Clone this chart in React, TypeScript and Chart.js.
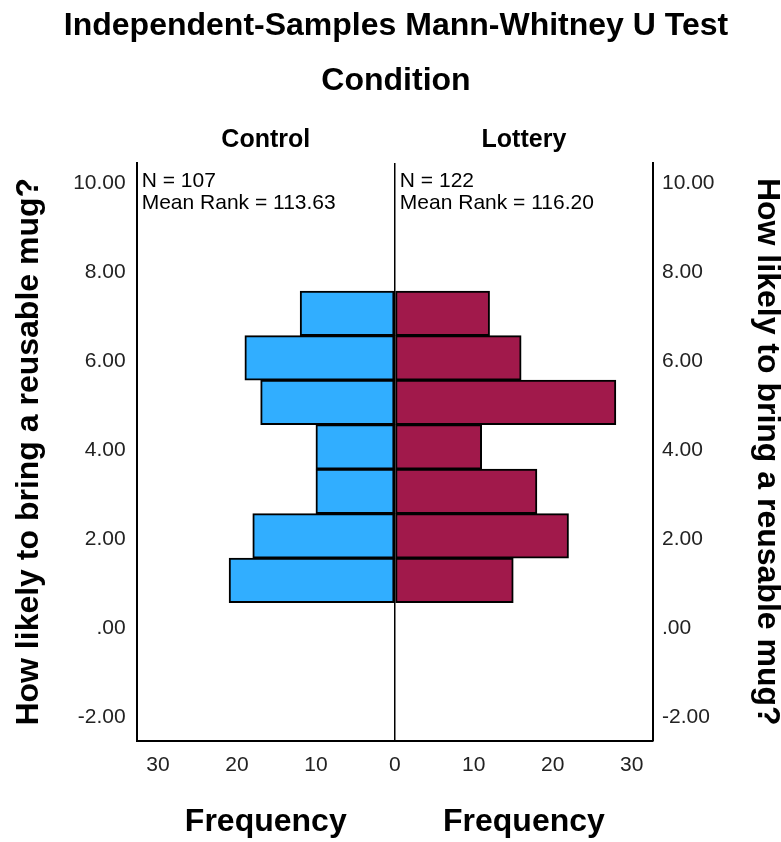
import React, { useEffect, useRef } from 'react';
import { Chart, registerables } from 'chart.js';

Chart.register(...registerables);

// ---- data ----
const ratingBins = [1, 2, 3, 4, 5, 6, 7];
const controlFreq = [21, 18, 10, 10, 17, 19, 12];
const lotteryFreq = [15, 22, 18, 11, 28, 16, 12];
const yTickValues = [-2, 0, 2, 4, 6, 8, 10];
const xTickValues = [-30, -20, -10, 0, 10, 20, 30];
const groupNames = ['Control', 'Lottery'];
const controlStats = ['N = 107', 'Mean Rank = 113.63'];
const lotteryStats = ['N = 122', 'Mean Rank = 116.20'];
const chartTitle = 'Independent-Samples Mann-Whitney U Test';
const factorTitle = 'Condition';
const yTitle = 'How likely to bring a reusable mug?';
const xTitle = 'Frequency';

const W = 781;
const H = 842;
const FONT = '"Liberation Sans", Arial, sans-serif';
const AREA = { left: 136.7, right: 653, top: 163, bottom: 740.5 };

const fmtY = (v: number) => (v === 0 ? '.00' : v.toFixed(2));

const annotPlugin = {
  id: 'annot',
  afterDraw(chart: any) {
    const { ctx, chartArea: a, scales } = chart;
    const mid = scales.x.getPixelForValue(0);
    const leftC = (a.left + mid) / 2;
    const rightC = (mid + a.right) / 2;
    const midY = (a.top + a.bottom) / 2;
    ctx.save();
    ctx.fillStyle = '#000';
    ctx.textAlign = 'center';
    ctx.textBaseline = 'middle';
    ctx.font = `bold 32px ${FONT}`;
    ctx.fillText(chartTitle, 396, 26);
    ctx.fillText(factorTitle, 396, 81);
    ctx.font = `bold 25px ${FONT}`;
    ctx.fillText(groupNames[0], leftC, 140);
    ctx.fillText(groupNames[1], rightC, 140);
    ctx.font = `bold 32px ${FONT}`;
    ctx.fillText(xTitle, leftC, 822);
    ctx.fillText(xTitle, rightC, 822);

    ctx.save();
    ctx.translate(29, midY);
    ctx.rotate(-Math.PI / 2);
    ctx.fillText(yTitle, 0, 0);
    ctx.restore();
    ctx.save();
    ctx.translate(767, midY);
    ctx.rotate(Math.PI / 2);
    ctx.fillText(yTitle, 0, 0);
    ctx.restore();

    ctx.textAlign = 'left';
    ctx.font = `21px ${FONT}`;
    controlStats.forEach((t, i) => ctx.fillText(t, a.left + 5, 181 + i * 22.5));
    lotteryStats.forEach((t, i) => ctx.fillText(t, mid + 5, 181 + i * 22.5));
    ctx.restore();
  },
};

const yScaleBase = (position: 'left' | 'right', width: number, padding: number) => ({
  type: 'linear' as const,
  position,
  min: -2.6,
  max: 10.38,
  stacked: true,
  offset: false,
  afterBuildTicks: (s: any) => {
    s.ticks = yTickValues.map((v) => ({ value: v }));
  },
  afterFit: (s: any) => {
    s.width = width;
  },
  ticks: {
    callback: (v: any) => fmtY(Number(v)),
    font: { family: FONT, size: 21 },
    color: '#222',
    padding,
    labelOffset: 3,
  },
  grid: { display: false, drawTicks: false, offset: false },
  border: { display: true, color: '#000', width: 2 },
});

export default function App() {
  const ref = useRef<HTMLCanvasElement | null>(null);
  useEffect(() => {
    if (!ref.current) return;
    const chart = new Chart(ref.current, {
      type: 'bar',
      data: {
        datasets: [
          {
            label: groupNames[0],
            data: ratingBins.map((b, i) => ({ x: -controlFreq[i], y: b })),
            backgroundColor: '#31AEFF',
            borderColor: '#000',
            borderWidth: 2,
            borderSkipped: false,
            stack: 'g',
            barPercentage: 1,
            categoryPercentage: 1,
          },
          {
            label: groupNames[1],
            data: ratingBins.map((b, i) => ({ x: lotteryFreq[i], y: b })),
            backgroundColor: '#A1194B',
            borderColor: '#000',
            borderWidth: 2,
            borderSkipped: false,
            stack: 'g',
            barPercentage: 1,
            categoryPercentage: 1,
          },
        ],
      },
      options: {
        indexAxis: 'y',
        responsive: false,
        animation: false,
        devicePixelRatio: 1,
        layout: { padding: { top: AREA.top, left: 0, right: 0, bottom: 0 } },
        plugins: { legend: { display: false }, tooltip: { enabled: false }, title: { display: false } },
        scales: {
          x: {
            type: 'linear',
            min: -32.7,
            max: 32.7,
            stacked: true,
            afterBuildTicks: (s: any) => {
              s.ticks = xTickValues.map((v) => ({ value: v }));
            },
            afterFit: (s: any) => {
              s.height = H - AREA.bottom;
            },
            ticks: {
              callback: (v: any) => String(Math.abs(Number(v))),
              font: { family: FONT, size: 21 },
              color: '#222',
              padding: 12,
              maxRotation: 0,
              autoSkip: false,
            },
            grid: {
              drawTicks: false,
              color: (c: any) => (c.tick && c.tick.value === 0 ? '#000' : 'rgba(0,0,0,0)'),
              lineWidth: 1.5,
            },
            border: { display: true, color: '#000', width: 2 },
          },
          y: yScaleBase('left', AREA.left, 11),
          y2: yScaleBase('right', W - AREA.right, 9),
        },
      } as any,
      plugins: [annotPlugin],
    });
    return () => chart.destroy();
  }, []);
  return (
    <div style={{ position: 'absolute', left: 0, top: 0, width: W, height: H, background: '#fff' }}>
      <canvas ref={ref} width={W} height={H} style={{ display: 'block' }} />
    </div>
  );
}
